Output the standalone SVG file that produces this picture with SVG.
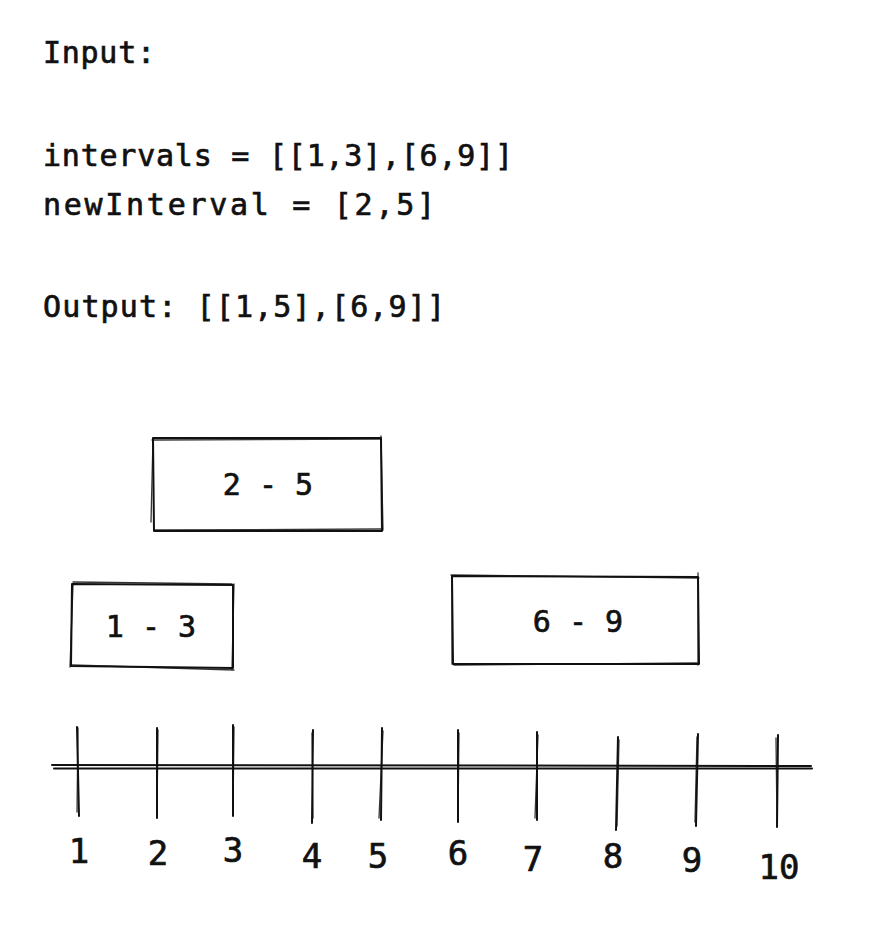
<svg xmlns="http://www.w3.org/2000/svg" width="874" height="952" viewBox="0 0 874 952">
  <style>
    .t { font-family: "DejaVu Sans Mono", "Liberation Mono", monospace; fill: #111111; stroke: #111111; stroke-width: 0.7; }
    .h { font-size: 30px; }
    .b { font-size: 30px; text-anchor: middle; }
    .n { font-size: 34px; text-anchor: middle; }
    .s { fill: none; stroke: #111111; stroke-width: 2; stroke-linecap: round; stroke-linejoin: round; }
    .s2 { fill: none; stroke: #111111; stroke-width: 1.3; stroke-linecap: round; opacity: 0.85; }
  </style>
  <rect width="874" height="952" fill="#ffffff"/>

  <g id="problem-text">
    <text class="t h" x="43" y="63" textLength="112" lengthAdjust="spacing">Input:</text>
    <text class="t h" x="43" y="166" textLength="470" lengthAdjust="spacing">intervals = [[1,3],[6,9]]</text>
    <text class="t h" x="43" y="215" textLength="392" lengthAdjust="spacing">newInterval = [2,5]</text>
    <text class="t h" x="43" y="317" textLength="402" lengthAdjust="spacing">Output: [[1,5],[6,9]]</text>
  </g>

  <g id="interval-2-5">
    <path class="s" d="M153 438 L381 438 L382 531 L154 531 Z"/>
    <path class="s2" d="M152 440 L380 439 M381 436 L383 530 M382 529 L155 530 M151 522 L153 439"/>
    <text class="t b" x="268" y="495">2 - 5</text>
  </g>

  <g id="interval-1-3">
    <path class="s" d="M72 584 L233 585 L233 668 L71 666 Z"/>
    <path class="s2" d="M73 582 L232 584 M234 584 L232 669 M234 670 L72 665 M70 667 L73 585"/>
    <text class="t b" x="151" y="637">1 - 3</text>
  </g>

  <g id="interval-6-9">
    <path class="s" d="M452 576 L698 577 L699 664 L453 664 Z"/>
    <path class="s2" d="M451 575 L699 578 M698 573 L698 665 M697 663 L454 665 M452 664 L452 577"/>
    <text class="t b" x="578" y="632">6 - 9</text>
  </g>

  <g id="connectors">
    <g id="number-line">
      <path class="s" d="M52 765 L811 766"/>
      <path class="s" d="M54 768.5 L812 768.5"/>
    </g>
    <g id="ticks">
      <path class="s" d="M77 727 L79 816"/><path class="s2" d="M78 728 L77 812"/>
      <path class="s" d="M157 728 L157 818"/><path class="s2" d="M158 730 L157 814"/>
      <path class="s" d="M233 725 L233 816"/><path class="s2" d="M234 727 L233 812"/>
      <path class="s" d="M313 730 L312 823"/><path class="s2" d="M312 733 L313 818"/>
      <path class="s" d="M382 728 L381 820"/><path class="s2" d="M383 731 L379 818"/>
      <path class="s" d="M458 730 L458 822"/><path class="s2" d="M459 733 L458 818"/>
      <path class="s" d="M537 732 L537 820"/><path class="s2" d="M538 735 L535 818"/>
      <path class="s" d="M618 737 L616 830"/><path class="s2" d="M619 740 L617 826"/>
      <path class="s" d="M698 734 L696 826"/><path class="s2" d="M697 737 L695 822"/>
      <path class="s" d="M778 735 L777 827"/><path class="s2" d="M776 738 L777 823"/>
    </g>
  </g>

  <g id="tick-labels">
    <text class="t n" x="79" y="863">1</text>
    <text class="t n" x="158" y="865">2</text>
    <text class="t n" x="233" y="862">3</text>
    <text class="t n" x="312" y="868">4</text>
    <text class="t n" x="378" y="868">5</text>
    <text class="t n" x="458" y="865">6</text>
    <text class="t n" x="533" y="871">7</text>
    <text class="t n" x="613" y="868">8</text>
    <text class="t n" x="692" y="872">9</text>
    <text class="t n" x="779" y="879">10</text>
  </g>
</svg>
